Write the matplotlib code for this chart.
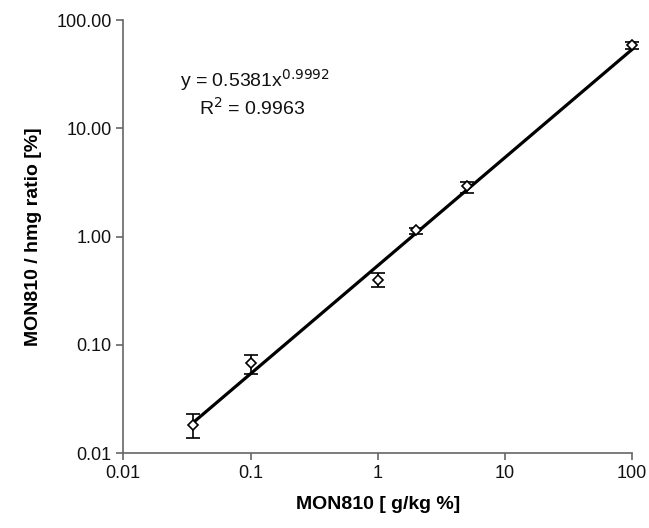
import numpy as np
import matplotlib
matplotlib.use("Agg")
import matplotlib.pyplot as plt
from matplotlib.ticker import FixedLocator, FixedFormatter, NullLocator

plt.rcParams['font.family'] = ['Liberation Sans', 'DejaVu Sans']

# measured GMO content vs. ratio
conc = [0.035, 0.1, 1, 2, 5, 100]
ratio = [0.0181, 0.0683, 0.395, 1.146, 2.94, 58.5]
err_hi = [0.0229, 0.0803, 0.462, 1.20, 3.18, 62.8]
err_lo = [0.0138, 0.0536, 0.344, 1.045, 2.55, 53.7]

# power trendline as shown on the chart
coef_a = 0.5381
coef_b = 0.9992
r2 = 0.9963

x_ticks = [0.01, 0.1, 1, 10, 100]
x_ticklabels = ["0.01", "0.1", "1", "10", "100"]
y_ticks = [0.01, 0.1, 1, 10, 100]
y_ticklabels = ["0.01", "0.10", "1.00", "10.00", "100.00"]

ratio = np.array(ratio)
yerr = [ratio - np.array(err_lo), np.array(err_hi) - ratio]

fig = plt.figure(figsize=(6.49, 5.28), dpi=100)
ax = fig.add_axes([0.190, 0.142, 0.784, 0.820])

xt = np.logspace(np.log10(conc[0]), np.log10(conc[-1]), 200)
ax.plot(xt, coef_a * xt ** coef_b, color='black', lw=2.3, zorder=2,
        clip_on=False)

eb = ax.errorbar(conc, ratio, yerr=yerr, fmt='D', ms=5.5, mfc='white',
                 mec='black', mew=1.2, ecolor='black', elinewidth=1.2,
                 capsize=5, capthick=1.2, zorder=3)
for art in [eb[0], *eb[1], *eb[2]]:
    art.set_clip_on(False)

ax.set_xscale('log')
ax.set_yscale('log')
ax.set_xlim(0.01, 100)
ax.set_ylim(0.01, 100)

ax.xaxis.set_major_locator(FixedLocator(x_ticks))
ax.xaxis.set_major_formatter(FixedFormatter(x_ticklabels))
ax.yaxis.set_major_locator(FixedLocator(y_ticks))
ax.yaxis.set_major_formatter(FixedFormatter(y_ticklabels))
ax.xaxis.set_minor_locator(NullLocator())
ax.yaxis.set_minor_locator(NullLocator())

for s in ['top', 'right']:
    ax.spines[s].set_visible(False)
for s in ['left', 'bottom']:
    ax.spines[s].set_color('#666666')
    ax.spines[s].set_linewidth(1.2)
ax.tick_params(axis='both', which='major', direction='out', length=5,
               width=1.2, color='#666666', labelsize=13, labelcolor='#111111')

ax.set_xlabel("MON810 [ g/kg %]", fontsize=14, fontweight='bold', labelpad=10)
ax.set_ylabel("MON810 / hmg ratio [%]", fontsize=14, fontweight='bold', labelpad=10)

ax.text(0.111, 0.862, "y = %.4fx$^{%.4f}$" % (coef_a, coef_b), transform=ax.transAxes,
        fontsize=14, va='center', ha='left', color='#111111')
ax.text(0.149, 0.797, "R$^{2}$ = %.4f" % r2, transform=ax.transAxes,
        fontsize=14, va='center', ha='left', color='#111111')

fig.savefig("out.png", dpi=100)
